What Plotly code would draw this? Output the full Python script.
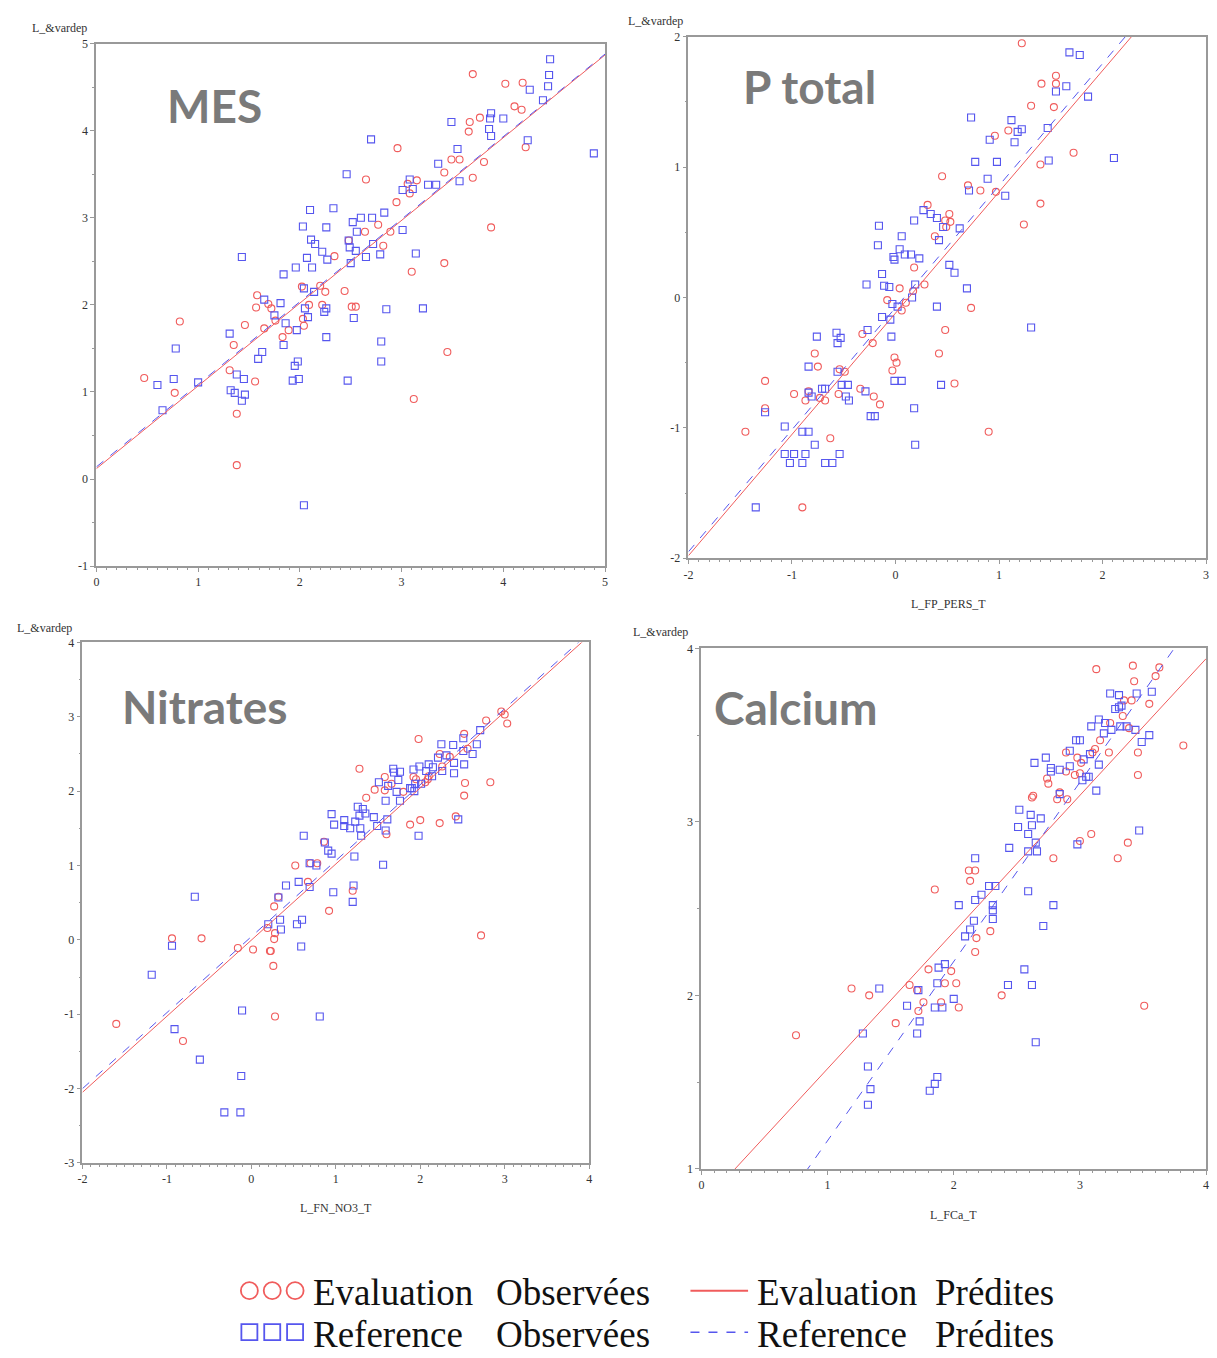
import plotly.graph_objects as go

# ---------------------------------------------------------------------------
# Observed values (x = log of the tested flux, y = log of the dependent var)
# ---------------------------------------------------------------------------
mes_eval = [(0.47, 1.16), (0.82, 1.81), (0.77, 0.99), (1.31, 1.25), (1.35, 1.54), (1.38, 0.75),
            (1.38, 0.16), (1.46, 1.77), (1.58, 2.11), (1.57, 1.97), (1.56, 1.12), (1.65, 1.73),
            (1.69, 2.01), (1.72, 1.96), (1.76, 1.82), (1.83, 1.63), (1.89, 1.71), (2.02, 2.21),
            (2.03, 1.84), (2.04, 1.76), (2.09, 2.00), (2.20, 2.22), (2.22, 2.00), (2.25, 2.15),
            (2.34, 2.56), (2.44, 2.16), (2.48, 2.74), (2.51, 1.98), (2.55, 1.98), (2.64, 2.84),
            (2.65, 3.44), (2.77, 2.92), (2.82, 2.68), (2.89, 2.84), (2.95, 3.18), (2.96, 3.80),
            (3.08, 3.28), (3.06, 3.39), (3.15, 3.43), (3.10, 2.38), (3.12, 0.92), (3.42, 2.48),
            (3.42, 3.52), (3.45, 1.46), (3.49, 3.67), (3.57, 3.67), (3.66, 3.99), (3.67, 4.10),
            (3.70, 4.65), (3.70, 3.46), (3.77, 4.15), (3.81, 3.64), (3.88, 2.89), (4.02, 4.54),
            (4.11, 4.28), (4.18, 4.24), (4.19, 4.55), (4.22, 3.81)]
mes_ref = [(0.60, 1.08), (0.65, 0.79), (0.76, 1.15), (0.78, 1.50), (1.00, 1.11), (1.31, 1.67),
           (1.32, 1.02), (1.36, 0.99), (1.38, 1.20), (1.43, 2.55), (1.43, 0.90), (1.45, 1.15),
           (1.46, 0.97), (1.59, 1.38), (1.63, 1.46), (1.65, 2.06), (1.75, 1.88), (1.81, 2.02),
           (1.84, 2.35), (1.84, 1.54), (1.86, 1.79), (1.93, 1.13), (1.95, 1.30), (1.96, 2.43),
           (1.97, 1.71), (1.98, 1.35), (1.99, 1.15), (2.03, 2.90), (2.04, 2.19), (2.04, -0.30),
           (2.05, 1.96), (2.07, 2.54), (2.08, 1.86), (2.10, 3.09), (2.11, 2.75), (2.12, 2.43),
           (2.14, 2.15), (2.15, 2.70), (2.22, 2.61), (2.24, 1.92), (2.26, 2.89), (2.26, 1.63),
           (2.26, 1.96), (2.27, 2.52), (2.33, 3.11), (2.46, 3.50), (2.47, 1.13), (2.48, 2.74),
           (2.49, 2.66), (2.50, 2.48), (2.52, 2.95), (2.53, 1.85), (2.55, 2.62), (2.56, 2.84),
           (2.60, 3.00), (2.65, 2.55), (2.70, 3.90), (2.71, 3.00), (2.72, 2.70), (2.79, 2.58),
           (2.80, 1.58), (2.80, 1.35), (2.83, 3.06), (2.85, 1.95), (3.01, 2.86), (3.01, 3.32),
           (3.08, 3.44), (3.11, 3.33), (3.14, 2.59), (3.21, 1.96), (3.26, 3.38), (3.34, 3.38),
           (3.36, 3.62), (3.49, 4.10), (3.55, 3.79), (3.57, 3.42), (3.86, 4.02), (3.87, 4.14),
           (3.88, 4.20), (3.88, 3.94), (4.00, 4.14), (4.24, 3.89), (4.26, 4.47), (4.39, 4.35),
           (4.44, 4.51), (4.45, 4.64), (4.46, 4.82), (4.89, 3.74)]

ptot_eval = [(-1.45, -1.03), (-1.26, -0.64), (-1.26, -0.85), (-0.98, -0.74), (-0.90, -1.61),
             (-0.87, -0.79), (-0.84, -0.72), (-0.78, -0.43), (-0.75, -0.53), (-0.73, -0.77),
             (-0.68, -0.79), (-0.63, -1.08), (-0.55, -0.74), (-0.54, -0.55), (-0.49, -0.57),
             (-0.34, -0.70), (-0.32, -0.28), (-0.22, -0.35), (-0.21, -0.76), (-0.15, -0.82),
             (-0.08, -0.02), (-0.03, -0.56), (-0.01, -0.46), (0.01, -0.50), (0.04, 0.07),
             (0.06, -0.10), (0.10, -0.04), (0.18, 0.23), (0.17, 0.05), (0.28, 0.10), (0.31, 0.71),
             (0.38, 0.47), (0.42, -0.43), (0.45, 0.93), (0.48, -0.25), (0.48, 0.59), (0.49, 0.54),
             (0.52, 0.64), (0.53, 0.58), (0.57, -0.66), (0.70, 0.86), (0.73, -0.08), (0.82, 0.82),
             (0.90, -1.03), (0.96, 1.24), (0.97, 0.81), (1.09, 1.28), (1.22, 1.95), (1.24, 0.56),
             (1.31, 1.47), (1.40, 1.02), (1.40, 0.72), (1.41, 1.64), (1.53, 1.46), (1.55, 1.70),
             (1.55, 1.64), (1.72, 1.11)]
ptot_ref = [(-1.35, -1.61), (-1.26, -0.88), (-1.07, -0.99), (-1.07, -1.20), (-1.02, -1.27),
            (-0.98, -1.20), (-0.90, -1.03), (-0.90, -1.27), (-0.87, -1.20), (-0.84, -1.03),
            (-0.84, -0.53), (-0.84, -0.73), (-0.81, -0.76), (-0.78, -1.13), (-0.76, -0.30),
            (-0.71, -0.70), (-0.68, -1.27), (-0.68, -0.70), (-0.61, -1.27), (-0.57, -0.27),
            (-0.56, -0.35), (-0.56, -0.57), (-0.54, -1.20), (-0.53, -0.31), (-0.52, -0.67),
            (-0.48, -0.76), (-0.46, -0.67), (-0.45, -0.79), (-0.29, -0.72), (-0.28, 0.10),
            (-0.27, -0.25), (-0.24, -0.91), (-0.20, -0.91), (-0.17, 0.40), (-0.16, 0.55),
            (-0.13, 0.18), (-0.13, -0.15), (-0.11, 0.09), (-0.06, 0.08), (-0.05, -0.17),
            (-0.04, -0.30), (-0.03, -0.05), (-0.02, 0.31), (-0.01, 0.29), (-0.01, -0.64),
            (0.02, -0.07), (0.04, 0.37), (0.06, 0.47), (0.06, -0.64), (0.09, 0.33), (0.15, 0.33),
            (0.16, 0.00), (0.18, 0.59), (0.18, -0.85), (0.19, 0.10), (0.19, -1.13), (0.23, 0.30),
            (0.27, 0.67), (0.34, 0.64), (0.40, 0.61), (0.40, -0.07), (0.42, 0.44), (0.44, -0.67),
            (0.46, 0.54), (0.52, 0.25), (0.57, 0.19), (0.62, 0.53), (0.69, 0.07), (0.71, 0.82),
            (0.73, 1.38), (0.77, 1.04), (0.89, 0.91), (0.91, 1.21), (0.98, 1.04), (1.06, 0.78),
            (1.12, 1.36), (1.15, 1.19), (1.18, 1.27), (1.22, 1.29), (1.31, -0.23), (1.47, 1.30),
            (1.48, 1.05), (1.55, 1.58), (1.65, 1.62), (1.68, 1.88), (1.78, 1.86), (1.86, 1.54),
            (2.11, 1.07)]

no3_eval = [(-1.60, -1.13), (-0.94, 0.02), (-0.81, -1.36), (-0.59, 0.02), (-0.16, -0.11),
            (0.02, -0.13), (0.19, 0.16), (0.22, -0.15), (0.23, -0.15), (0.26, -0.35), (0.27, 0.01),
            (0.27, 0.45), (0.28, 0.09), (0.28, -1.03), (0.32, 0.58), (0.52, 1.00), (0.67, 0.78),
            (0.70, 1.03), (0.78, 1.03), (0.86, 1.32), (0.92, 0.39), (1.20, 0.66), (1.28, 2.30),
            (1.36, 1.91), (1.46, 2.02), (1.58, 2.19), (1.58, 2.01), (1.60, 1.42), (1.66, 2.10),
            (1.80, 1.99), (1.88, 1.55), (1.92, 2.19), (1.95, 2.16), (1.98, 2.70), (2.00, 1.61),
            (2.06, 2.12), (2.09, 2.16), (2.10, 2.20), (2.23, 1.57), (2.23, 2.50), (2.26, 2.33),
            (2.35, 2.46), (2.42, 1.66), (2.52, 1.94), (2.53, 2.11), (2.52, 2.77), (2.56, 2.57),
            (2.72, 0.06), (2.78, 2.95), (2.83, 2.12), (2.96, 3.07), (3.00, 3.03), (3.03, 2.91)]
no3_ref = [(-1.18, -0.47), (-0.94, -0.08), (-0.91, -1.20), (-0.67, 0.58), (-0.61, -1.61),
           (-0.32, -2.32), (-0.13, -2.32), (-0.12, -1.83), (-0.11, -0.95), (0.20, 0.21),
           (0.32, 0.57), (0.34, 0.27), (0.35, 0.14), (0.41, 0.73), (0.54, 0.21), (0.56, 0.78),
           (0.59, -0.09), (0.60, 0.27), (0.62, 1.40), (0.69, 1.03), (0.69, 0.71), (0.77, 1.00),
           (0.81, -1.03), (0.87, 1.31), (0.91, 1.20), (0.95, 1.16), (0.95, 1.69), (0.97, 0.64),
           (0.98, 1.55), (1.10, 1.61), (1.10, 1.53), (1.17, 1.50), (1.22, 1.12), (1.21, 0.73),
           (1.20, 0.51), (1.23, 1.59), (1.26, 1.79), (1.28, 1.67), (1.29, 1.50), (1.30, 1.40),
           (1.32, 1.76), (1.35, 1.70), (1.45, 1.65), (1.49, 1.53), (1.51, 2.12), (1.56, 1.01),
           (1.59, 1.87), (1.59, 1.47), (1.61, 1.62), (1.62, 2.07), (1.68, 2.30), (1.69, 2.25),
           (1.72, 1.99), (1.74, 2.15), (1.76, 1.87), (1.76, 2.26), (1.88, 2.04), (1.90, 2.04),
           (1.92, 2.29), (1.93, 2.00), (1.94, 2.10), (1.98, 1.40), (1.99, 2.33), (2.01, 2.10),
           (2.07, 2.27), (2.10, 2.36), (2.14, 2.20), (2.15, 2.32), (2.21, 2.45), (2.25, 2.63),
           (2.26, 2.27), (2.31, 2.48), (2.39, 2.62), (2.40, 2.38), (2.40, 2.24), (2.45, 1.62),
           (2.51, 2.54), (2.51, 2.71), (2.52, 2.36), (2.62, 2.50), (2.67, 2.63), (2.71, 2.82)]

ca_eval = [(0.75, 1.77), (1.19, 2.04), (1.33, 2.00), (1.54, 1.84), (1.65, 2.06), (1.71, 2.03),
           (1.72, 1.91), (1.76, 1.96), (1.80, 2.15), (1.85, 2.61), (1.90, 1.96), (1.93, 2.07),
           (1.98, 2.14), (2.02, 2.07), (2.04, 1.93), (2.12, 2.72), (2.13, 2.66), (2.17, 2.72),
           (2.17, 2.25), (2.18, 2.33), (2.29, 2.37), (2.38, 2.00), (2.62, 3.14), (2.63, 3.15),
           (2.74, 3.25), (2.75, 3.22), (2.79, 2.79), (2.82, 3.13), (2.84, 3.17), (2.89, 3.29),
           (2.90, 3.13), (2.89, 3.40), (2.96, 3.27), (2.98, 3.37), (3.00, 3.28), (3.00, 2.89),
           (3.01, 3.34), (3.09, 2.93), (3.10, 3.40), (3.12, 3.42), (3.13, 3.88), (3.16, 3.47),
           (3.23, 3.40), (3.24, 3.57), (3.30, 2.79), (3.34, 3.61), (3.35, 3.70), (3.38, 2.88),
           (3.39, 3.54), (3.41, 3.70), (3.42, 3.90), (3.43, 3.81), (3.46, 3.40), (3.46, 3.27),
           (3.51, 1.94), (3.55, 3.68), (3.60, 3.84), (3.63, 3.89), (3.82, 3.44)]
ca_ref = [(1.28, 1.78), (1.32, 1.59), (1.34, 1.46), (1.32, 1.37), (1.41, 2.04), (1.63, 1.94),
          (1.71, 1.78), (1.72, 2.03), (1.73, 1.85), (1.81, 1.45), (1.85, 1.93), (1.85, 1.49),
          (1.87, 1.53), (1.87, 2.07), (1.88, 2.16), (1.91, 1.93), (1.93, 2.18), (2.00, 1.98),
          (2.04, 2.52), (2.09, 2.34), (2.13, 2.38), (2.16, 2.43), (2.17, 2.55), (2.17, 2.79),
          (2.22, 2.58), (2.28, 2.63), (2.33, 2.63), (2.31, 2.52), (2.31, 2.49), (2.31, 2.44),
          (2.43, 2.06), (2.44, 2.85), (2.51, 2.97), (2.52, 3.07), (2.56, 2.15), (2.59, 2.83),
          (2.59, 2.93), (2.59, 2.60), (2.61, 3.04), (2.62, 2.06), (2.62, 2.98), (2.64, 3.34),
          (2.65, 2.88), (2.65, 1.73), (2.66, 2.83), (2.69, 3.02), (2.71, 2.40), (2.73, 3.37),
          (2.77, 3.29), (2.77, 3.31), (2.79, 2.52), (2.84, 3.16), (2.84, 3.30), (2.92, 3.32),
          (2.92, 3.41), (2.97, 3.47), (2.98, 2.87), (3.00, 3.47), (3.02, 3.24), (3.03, 3.36),
          (3.05, 3.26), (3.07, 3.26), (3.08, 3.39), (3.09, 3.55), (3.13, 3.18), (3.15, 3.33),
          (3.15, 3.59), (3.19, 3.51), (3.20, 3.57), (3.24, 3.74), (3.25, 3.53), (3.28, 3.65),
          (3.31, 3.66), (3.31, 3.73), (3.32, 3.55), (3.33, 3.67), (3.37, 3.55), (3.44, 3.53),
          (3.45, 3.74), (3.47, 2.95), (3.49, 3.46), (3.55, 3.50), (3.57, 3.75)]

# Predicted (regression) lines, given by their two end points
mes_pred_x, mes_pred_eval, mes_pred_ref = [0, 5], [0.12, 4.87], [0.14, 4.88]
ptot_pred_x, ptot_pred_eval, ptot_pred_ref = [-2, 3], [-1.98, 2.67], [-1.95, 2.73]
no3_pred_x, no3_pred_eval, no3_pred_ref = [-2, 4], [-2.05, 4.09], [-2.00, 4.13]
ca_pred_x, ca_pred_eval, ca_pred_ref = [0, 4], [0.79, 3.94], [0.13, 4.26]

# Tick labels
mes_xticks, mes_yticks = [0, 1, 2, 3, 4, 5], [-1, 0, 1, 2, 3, 4, 5]
ptot_xticks, ptot_yticks = [-2, -1, 0, 1, 2, 3], [-2, -1, 0, 1, 2]
no3_xticks, no3_yticks = [-2, -1, 0, 1, 2, 3, 4], [-3, -2, -1, 0, 1, 2, 3, 4]
ca_xticks, ca_yticks = [0, 1, 2, 3, 4], [1, 2, 3, 4]

panel_titles = ["MES", "P total", "Nitrates", "Calcium"]
x_titles = [None, "L_FP_PERS_T", "L_FN_NO3_T", "L_FCa_T"]
y_title = "L_&vardep"

legend_obs = ["Evaluation", "Reference"]
legend_kind = ["Observées", "Prédites"]

# ---------------------------------------------------------------------------
W, H = 1217, 1358
RED = "rgb(240,92,92)"
BLUE = "rgb(86,86,238)"
AXIS = "#999999"
SERIF = "Liberation Serif, Times New Roman, serif"


def fx(p):
    return p / W


def fy(p):
    return 1 - p / H


panels = [
    dict(ev=mes_eval, rf=mes_ref, px=mes_pred_x, pe=mes_pred_eval, pr=mes_pred_ref,
         xt=mes_xticks, yt=mes_yticks, box=(92, 604, 37, 565),
         title_at=(161, 100), ylab_at=(55, 21), xlab_at=None),
    dict(ev=ptot_eval, rf=ptot_ref, px=ptot_pred_x, pe=ptot_pred_eval, pr=ptot_pred_ref,
         xt=ptot_xticks, yt=ptot_yticks, box=(688, 1209, 30, 557),
         title_at=(741, 80), ylab_at=(655, 14), xlab_at=(950, 603)),
    dict(ev=no3_eval, rf=no3_ref, px=no3_pred_x, pe=no3_pred_eval, pr=no3_pred_ref,
         xt=no3_xticks, yt=no3_yticks, box=(78, 588, 642, 1168),
         title_at=(116, 707), ylab_at=(40, 627), xlab_at=(333, 1214)),
    dict(ev=ca_eval, rf=ca_ref, px=ca_pred_x, pe=ca_pred_eval, pr=ca_pred_ref,
         xt=ca_xticks, yt=ca_yticks, box=(701, 1209, 648, 1174),
         title_at=(712, 708), ylab_at=(660, 632), xlab_at=(955, 1221)),
]

fig = go.Figure()
annotations = []
layout_axes = {}

for i, p in enumerate(panels, start=1):
    xa = "x" if i == 1 else f"x{i}"
    ya = "y" if i == 1 else f"y{i}"
    fig.add_trace(go.Scatter(
        x=[a for a, _ in p["ev"]], y=[b for _, b in p["ev"]], mode="markers",
        marker=dict(symbol="circle-open", size=7, color=RED, line=dict(width=1.1, color=RED)),
        xaxis=xa, yaxis=ya, showlegend=False, hoverinfo="x+y"))
    fig.add_trace(go.Scatter(
        x=[a for a, _ in p["rf"]], y=[b for _, b in p["rf"]], mode="markers",
        marker=dict(symbol="square-open", size=7, color=BLUE, line=dict(width=1.1, color=BLUE)),
        xaxis=xa, yaxis=ya, showlegend=False, hoverinfo="x+y"))
    fig.add_trace(go.Scatter(
        x=p["px"], y=p["pe"], mode="lines", line=dict(color=RED, width=1),
        xaxis=xa, yaxis=ya, showlegend=False, hoverinfo="skip"))
    fig.add_trace(go.Scatter(
        x=p["px"], y=p["pr"], mode="lines", line=dict(color=BLUE, width=1, dash="dash"),
        xaxis=xa, yaxis=ya, showlegend=False, hoverinfo="skip"))

    x0, x1, y0, y1 = p["box"]
    common = dict(showline=True, mirror=True, linecolor=AXIS, linewidth=1.8,
                  ticks="outside", ticklen=4, tickwidth=1, tickcolor=AXIS,
                  showgrid=False, zeroline=False, fixedrange=True,
                  tickfont=dict(family=SERIF, size=12, color="#333333"))
    xkey = "xaxis" if i == 1 else f"xaxis{i}"
    ykey = "yaxis" if i == 1 else f"yaxis{i}"
    layout_axes[xkey] = dict(
        common, domain=[fx(x0), fx(x1)], range=[p["xt"][0], p["xt"][-1]], anchor=ya,
        tickmode="array", tickvals=p["xt"], ticktext=[str(v) for v in p["xt"]],
        minor=dict(dtick=0.1, tick0=0, ticks="outside", ticklen=2, tickcolor=AXIS))
    layout_axes[ykey] = dict(
        common, domain=[fy(y1), fy(y0)], range=[p["yt"][0], p["yt"][-1]], anchor=xa,
        tickmode="array", tickvals=p["yt"], ticktext=[str(v) for v in p["yt"]],
        minor=dict(dtick=0.5, tick0=0, ticks="outside", ticklen=2, tickcolor=AXIS))

    tx, ty = p["title_at"]
    annotations.append(dict(
        text=panel_titles[i - 1], x=fx(tx), y=fy(ty), xref="paper", yref="paper",
        xanchor="left", yanchor="middle", showarrow=False,
        font=dict(family="Lato, Open Sans, sans-serif", size=46, color="#7a7a7a",
                  weight="bold")))
    lx, ly = p["ylab_at"]
    annotations.append(dict(
        text=y_title, x=fx(lx), y=fy(ly), xref="paper", yref="paper",
        xanchor="center", yanchor="middle", showarrow=False,
        font=dict(family=SERIF, size=12, color="#333333")))
    if p["xlab_at"] is not None:
        bx, by = p["xlab_at"]
        annotations.append(dict(
            text=x_titles[i - 1], x=fx(bx), y=fy(by), xref="paper", yref="paper",
            xanchor="center", yanchor="middle", showarrow=False,
            font=dict(family=SERIF, size=12, color="#333333")))

# ---------------------------------------------------------------------------
# Legend drawn on a page-sized overlay axis (pixel units)
# ---------------------------------------------------------------------------
layout_axes["xaxis5"] = dict(domain=[0, 1], range=[0, W], visible=False, fixedrange=True,
                             anchor="y5")
layout_axes["yaxis5"] = dict(domain=[0, 1], range=[H, 0], visible=False, fixedrange=True,
                             anchor="x5")

row_y = [1297, 1339]
sym_x = [246, 269, 292]
fig.add_trace(go.Scatter(
    x=sym_x, y=[row_y[0]] * 3, mode="markers", xaxis="x5", yaxis="y5",
    marker=dict(symbol="circle-open", size=17, color=RED, line=dict(width=1.8, color=RED)),
    showlegend=False, hoverinfo="skip"))
fig.add_trace(go.Scatter(
    x=sym_x, y=[row_y[1]] * 3, mode="markers", xaxis="x5", yaxis="y5",
    marker=dict(symbol="square-open", size=16, color=BLUE, line=dict(width=1.8, color=BLUE)),
    showlegend=False, hoverinfo="skip"))
fig.add_trace(go.Scatter(
    x=[690, 748], y=[row_y[0]] * 2, mode="lines", xaxis="x5", yaxis="y5",
    line=dict(color=RED, width=2), showlegend=False, hoverinfo="skip"))
fig.add_trace(go.Scatter(
    x=[690, 748], y=[row_y[1]] * 2, mode="lines", xaxis="x5", yaxis="y5",
    line=dict(color=BLUE, width=1.5, dash="dash"), showlegend=False, hoverinfo="skip"))

for r, yy in enumerate(row_y):
    for txt, xx in [(legend_obs[r], 308), (legend_kind[0], 492),
                    (legend_obs[r], 755), (legend_kind[1], 934)]:
        annotations.append(dict(
            text=txt, x=fx(xx), y=fy(yy + 2), xref="paper", yref="paper",
            xanchor="left", yanchor="middle", showarrow=False,
            font=dict(family=SERIF, size=37, color="#111111")))

fig.update_layout(
    width=W, height=H, margin=dict(l=0, r=0, t=0, b=0),
    paper_bgcolor="white", plot_bgcolor="rgba(0,0,0,0)",
    showlegend=False, annotations=annotations, **layout_axes)

fig.write_html("out.html")
